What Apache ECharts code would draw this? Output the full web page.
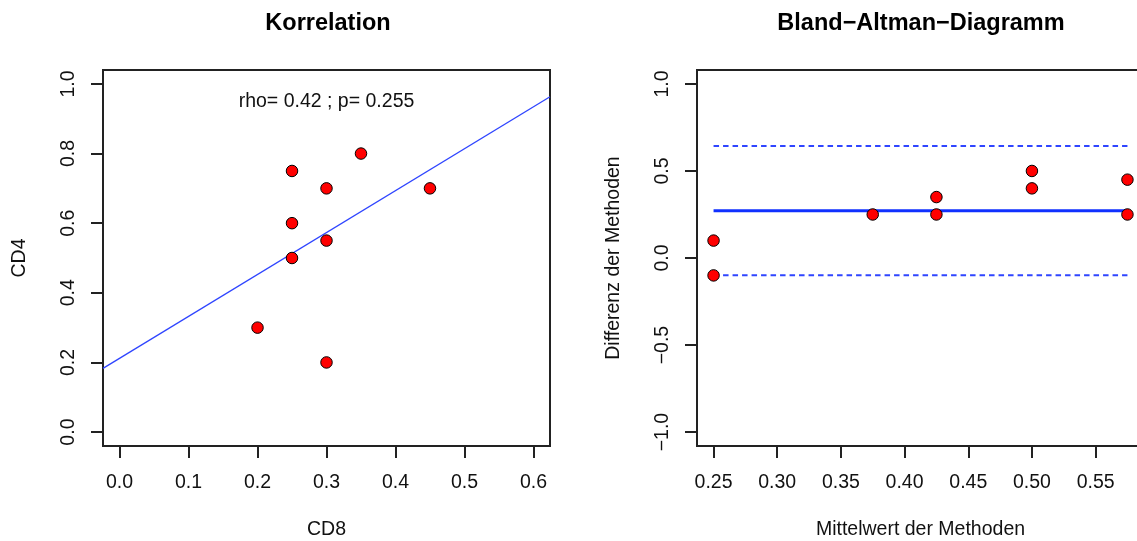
<!DOCTYPE html>
<html>
<head>
<meta charset="utf-8">
<script src="https://cdn.jsdelivr.net/npm/echarts@6/dist/echarts.min.js"></script>
<style>
html,body{margin:0;padding:0;background:#fff;}
#chart{width:1137px;height:541px;}
</style>
</head>
<body>
<div id="chart"></div>
<script>
// ---- Data ----
const cd8 = [0.2, 0.25, 0.25, 0.25, 0.3, 0.3, 0.3, 0.35, 0.45];
const cd4 = [0.3, 0.75, 0.6, 0.5, 0.7, 0.55, 0.2, 0.8, 0.7];
const regLineX = [-0.024, 0.624];
const regLineY = [0.183, 0.963];
const corrText = 'rho= 0.42 ; p= 0.255';
const corrTextPos = [0.3, 0.95];

const mittelwert = [0.25, 0.25, 0.375, 0.425, 0.425, 0.5, 0.5, 0.575, 0.575];
const differenz = [0.1, -0.1, 0.25, 0.35, 0.25, 0.5, 0.4, 0.25, 0.45];
const baLineX = [0.25, 0.575];
const meanDiff = 0.272;
const upperLoA = 0.643;
const lowerLoA = -0.099;

const leftXTicks = [0, 0.1, 0.2, 0.3, 0.4, 0.5, 0.6];
const leftXLabels = ['0.0', '0.1', '0.2', '0.3', '0.4', '0.5', '0.6'];
const leftYTicks = [0, 0.2, 0.4, 0.6, 0.8, 1.0];
const leftYLabels = ['0.0', '0.2', '0.4', '0.6', '0.8', '1.0'];
const rightXTicks = [0.25, 0.3, 0.35, 0.4, 0.45, 0.5, 0.55];
const rightXLabels = ['0.25', '0.30', '0.35', '0.40', '0.45', '0.50', '0.55'];
const rightYTicks = [-1, -0.5, 0, 0.5, 1];
const rightYLabels = ['\u22121.0', '\u22120.5', '0.0', '0.5', '1.0'];

// ---- Chart ----
const FONT = "'Liberation Sans', Arial, Helvetica, sans-serif";
const INK = '#111';
const BOX = '#222';
const FS = 19.5;

function labelFor(ticks, labels) {
  return function (v) {
    for (let i = 0; i < ticks.length; i++) {
      if (Math.abs(ticks[i] - v) < 1e-9) return labels[i];
    }
    return '';
  };
}

function xAxisCfg(grid, min, max, ticks, labels, name) {
  return {
    type: 'value', gridIndex: grid, min: min, max: max, position: 'bottom',
    name: name, nameLocation: 'middle', nameGap: 74,
    nameTextStyle: {fontFamily: FONT, fontSize: FS, color: INK},
    axisLine: {show: false, onZero: false},
    axisTick: {show: true, inside: false, length: 12, customValues: ticks,
               lineStyle: {color: BOX, width: 2}},
    axisLabel: {show: true, margin: 27, customValues: ticks, formatter: labelFor(ticks, labels),
                fontFamily: FONT, fontSize: FS, color: INK},
    splitLine: {show: false}
  };
}
function yAxisCfg(grid, min, max, ticks, labels, name) {
  return {
    type: 'value', gridIndex: grid, min: min, max: max, position: 'left',
    name: name, nameLocation: 'middle', nameGap: 73,
    nameTextStyle: {fontFamily: FONT, fontSize: FS, color: INK},
    axisLine: {show: false, onZero: false},
    axisTick: {show: true, inside: false, length: 12, customValues: ticks,
               lineStyle: {color: BOX, width: 2}},
    axisLabel: {show: true, margin: 24, rotate: 90, customValues: ticks, formatter: labelFor(ticks, labels),
                fontFamily: FONT, fontSize: FS, color: INK},
    splitLine: {show: false}
  };
}

const pointStyle = {color: '#ff0000', borderColor: '#000', borderWidth: 1, opacity: 1};

const option = {
  backgroundColor: '#fff',
  animation: false,
  title: [
    {text: 'Korrelation', left: 328, top: 12, textAlign: 'center', padding: 0,
     textStyle: {fontFamily: FONT, fontSize: 23.5, fontWeight: 'bold', color: '#000'}},
    {text: 'Bland\u2212Altman\u2212Diagramm', left: 921, top: 12, textAlign: 'center', padding: 0,
     textStyle: {fontFamily: FONT, fontSize: 23.5, fontWeight: 'bold', color: '#000'}}
  ],
  grid: [
    {left: 103, right: 587, top: 70, bottom: 95, show: true, borderColor: BOX, borderWidth: 2,
     backgroundColor: 'transparent', containLabel: false, outerBoundsMode: 'none'},
    {left: 697, right: -7, top: 70, bottom: 95, show: true, borderColor: BOX, borderWidth: 2,
     backgroundColor: 'transparent', containLabel: false, outerBoundsMode: 'none'}
  ],
  xAxis: [
    xAxisCfg(0, -0.024, 0.624, leftXTicks, leftXLabels, 'CD8'),
    xAxisCfg(1, 0.237, 0.588, rightXTicks, rightXLabels, 'Mittelwert der Methoden')
  ],
  yAxis: [
    yAxisCfg(0, -0.04, 1.04, leftYTicks, leftYLabels, 'CD4'),
    yAxisCfg(1, -1.08, 1.08, rightYTicks, rightYLabels, 'Differenz der Methoden')
  ],
  series: [
    {type: 'line', xAxisIndex: 0, yAxisIndex: 0, symbol: 'none', silent: true,
     data: regLineX.map((x, i) => [x, regLineY[i]]),
     lineStyle: {color: '#2f45ff', width: 1.3}, clip: true, z: 2},
    {type: 'scatter', xAxisIndex: 0, yAxisIndex: 0, symbol: 'circle', symbolSize: 11.5,
     data: cd8.map((x, i) => [x, cd4[i]]), itemStyle: pointStyle, z: 3},
    {type: 'scatter', xAxisIndex: 0, yAxisIndex: 0, symbolSize: 0, silent: true,
     data: [corrTextPos], itemStyle: {opacity: 1},
     label: {show: true, position: 'inside', formatter: corrText,
             fontFamily: FONT, fontSize: FS, color: INK}, z: 4},
    {type: 'line', xAxisIndex: 1, yAxisIndex: 1, symbol: 'none', silent: true,
     data: baLineX.map(x => [x, meanDiff]),
     lineStyle: {color: '#1030ff', width: 3}, z: 2},
    {type: 'line', xAxisIndex: 1, yAxisIndex: 1, symbol: 'none', silent: true,
     data: baLineX.map(x => [x, upperLoA]),
     lineStyle: {color: '#2f45ff', width: 2, type: [5.5, 4]}, z: 2},
    {type: 'line', xAxisIndex: 1, yAxisIndex: 1, symbol: 'none', silent: true,
     data: baLineX.map(x => [x, lowerLoA]),
     lineStyle: {color: '#2f45ff', width: 2, type: [5.5, 4]}, z: 2},
    {type: 'scatter', xAxisIndex: 1, yAxisIndex: 1, symbol: 'circle', symbolSize: 11.5,
     data: mittelwert.map((x, i) => [x, differenz[i]]), itemStyle: pointStyle, z: 3, clip: false}
  ]
};

const chart = echarts.init(document.getElementById('chart'), null, {renderer: 'canvas'});
chart.setOption(option);
</script>
</body>
</html>
